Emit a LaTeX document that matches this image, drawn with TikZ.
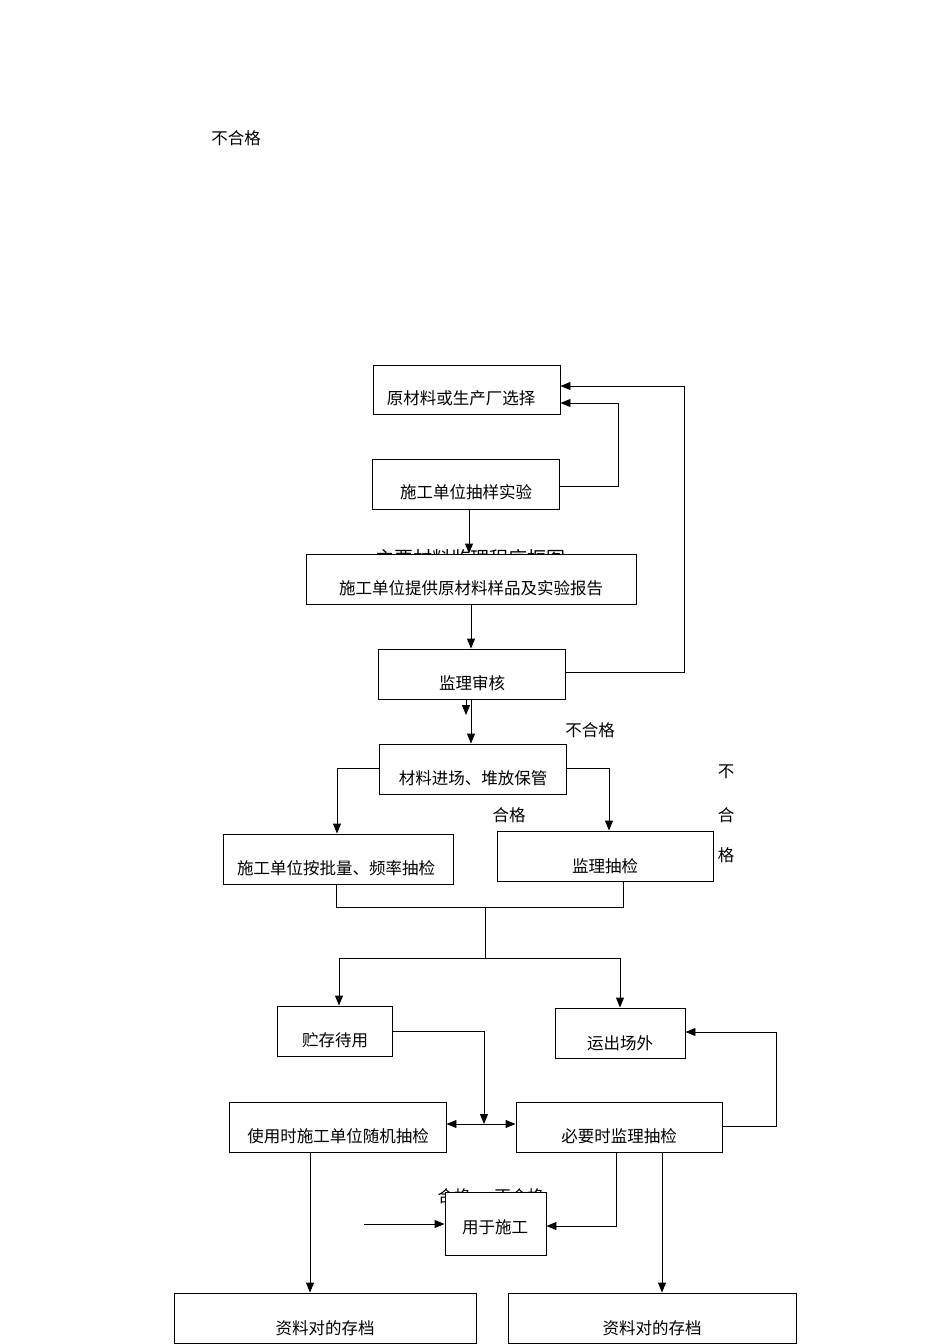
\documentclass[tikz,border=0pt]{standalone}
\usepackage{fontspec}
\setmainfont{Noto Sans CJK SC}
\usetikzlibrary{arrows.meta}
\begin{document}
\begin{tikzpicture}[x=1pt,y=-1pt,
  box/.style={draw,line width=0.95pt,fill=white,inner sep=0pt},
  txt/.style={inner sep=0pt,font=\fontsize{16.5}{19}\selectfont},
  ttl/.style={inner sep=0pt,font=\fontsize{19}{22}\selectfont},
  ln/.style={line width=0.95pt},
  arr/.style={ln,-{Triangle[length=10pt,width=8pt]}},
  darr/.style={ln,{Triangle[length=10pt,width=8pt]}-{Triangle[length=10pt,width=8pt]}}]
\useasboundingbox (0,0) rectangle (950,1344);
% labels behind boxes
\node[txt] (t0) at (236,138) {不合格};
\node[ttl] (title) at (470,558) {主要材料监理程序框图};
\node[txt] (h1) at (454,1196) {合格};
\node[txt] (h2) at (519,1196) {不合格};
% boxes
\node[box,minimum width=187pt,minimum height=49pt] (b1) at (466.5,389.5) {};
\node[box,minimum width=187pt,minimum height=50pt] (b2) at (465.5,484) {};
\node[box,minimum width=330pt,minimum height=50pt] (b3) at (471,579) {};
\node[box,minimum width=187pt,minimum height=50pt] (b4) at (471.5,674) {};
\node[box,minimum width=187pt,minimum height=50pt] (b5) at (472.5,769) {};
\node[box,minimum width=230pt,minimum height=50pt] (b6) at (338,859) {};
\node[box,minimum width=216pt,minimum height=50pt] (b7) at (605,856) {};
\node[box,minimum width=115pt,minimum height=50pt] (b8) at (334.5,1031) {};
\node[box,minimum width=130pt,minimum height=50pt] (b9) at (620,1033) {};
\node[box,minimum width=217pt,minimum height=50pt] (b10) at (337.5,1127) {};
\node[box,minimum width=206pt,minimum height=50pt] (b11) at (619,1127) {};
\node[box,minimum width=101pt,minimum height=63pt] (b12) at (495.5,1223.5) {};
\node[box,minimum width=302pt,minimum height=50pt] (b13) at (325,1318) {};
\node[box,minimum width=288pt,minimum height=50pt] (b14) at (652,1318) {};
% box texts
\node[txt] at (461,398) {原材料或生产厂选择};
\node[txt] at (466,492) {施工单位抽样实验};
\node[txt] at (471,588) {施工单位提供原材料样品及实验报告};
\node[txt] at (472,683) {监理审核};
\node[txt] at (473,778) {材料进场、堆放保管};
\node[txt] at (336,868) {施工单位按批量、频率抽检};
\node[txt] at (605,866) {监理抽检};
\node[txt] at (335,1040) {贮存待用};
\node[txt] at (620,1043) {运出场外};
\node[txt] at (338,1136) {使用时施工单位随机抽检};
\node[txt] at (619,1136) {必要时监理抽检};
\node[txt] at (495,1227) {用于施工};
\node[txt] at (325,1328) {资料对的存档};
\node[txt] at (652,1328) {资料对的存档};
% other labels
\node[txt] (l1) at (590,730) {不合格};
\node[txt] (l2) at (509,815) {合格};
\node[txt] (l3) at (726,772) {不};
\node[txt] (l4) at (726,815) {合};
\node[txt] (l5) at (726,855) {格};
% connectors
\draw[arr] (b2.east |- 0,486) -- (618,486) -- (618,403) -- (b1.east |- 0,403);
\draw[arr] (b4.east |- 0,672) -- (684,672) -- (684,386) -- (b1.east |- 0,386);
\draw[arr] (b2.south -| 469,0) -- (b3.north -| 469,0);
\draw[arr] (b3.south -| 471,0) -- (b4.north -| 471,0);
\coordinate (e1) at (466,715);
\draw[arr] (b4.south -| 466,0) -- (e1);
\draw[arr] (b4.south -| 471,0) -- (b5.north -| 471,0);
\draw[arr] (b5.west |- 0,768) -- (337,768) -- (b6.north -| 337,0);
\draw[arr] (b5.east |- 0,768) -- (609,768) -- (b7.north -| 609,0);
\draw[ln] (b6.south -| 336,0) -- (336,907) -- (623,907) -- (b7.south -| 623,0);
\draw[ln] (485,907) -- (485,958);
\draw[ln] (339,958) -- (620,958);
\draw[arr] (339,958) -- (b8.north -| 339,0);
\draw[arr] (620,958) -- (b9.north -| 620,0);
\draw[arr] (b8.east |- 0,1031) -- (484,1031) -- (484,1124);
\draw[darr] (b10.east |- 0,1124) -- (b11.west |- 0,1124);
\draw[arr] (b11.east |- 0,1126) -- (776,1126) -- (776,1032) -- (b9.east |- 0,1032);
\draw[arr] (b10.south -| 310,0) -- (b13.north -| 310,0);
\draw[arr] (b11.south -| 616,0) -- (616,1226) -- (b12.east |- 0,1226);
\draw[arr] (b11.south -| 662,0) -- (b14.north -| 662,0);
\coordinate (s1) at (364,1224);
\draw[arr] (s1) -- (b12.west |- 0,1224);
\end{tikzpicture}
\end{document}
